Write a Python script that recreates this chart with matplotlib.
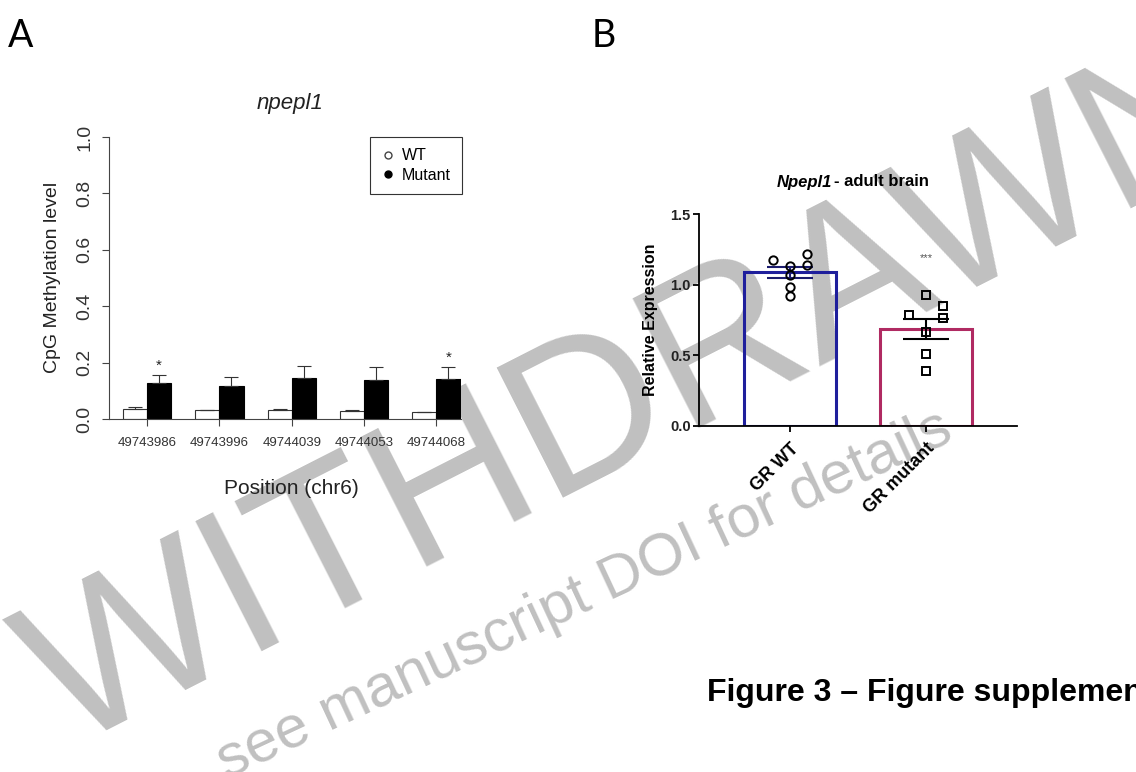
import matplotlib
matplotlib.use("Agg")
import matplotlib.pyplot as plt
from matplotlib.lines import Line2D
import numpy as np

plt.rcParams["font.family"] = ["Liberation Sans", "DejaVu Sans"]

# ---- panel A data: CpG methylation per position
positions = ["49743986", "49743996", "49744039", "49744053", "49744068"]
wt_meth = [0.035, 0.031, 0.031, 0.030, 0.024]
wt_meth_err = [0.006, 0.002, 0.003, 0.002, 0.002]
mut_meth = [0.129, 0.117, 0.144, 0.140, 0.143]
mut_meth_err = [0.028, 0.031, 0.043, 0.043, 0.041]
signif_a = ["*", "", "", "", "*"]

# ---- panel B data: relative expression
groups_b = ["GR WT", "GR mutant"]
wt_expr = [1.174, 1.130, 1.217, 1.141, 1.065, 0.987, 0.917]
wt_jitter = [-1, 0, 1, 1, 0, 0, 0]
mut_expr = [0.924, 0.848, 0.787, 0.763, 0.668, 0.510, 0.390]
mut_jitter = [0, 1, -1, 1, 0, 0, 0]
mean_b = [1.087, 0.687]
sem_b = [0.040, 0.072]

W, H = 1136, 772
fig = plt.figure(figsize=(W / 100, H / 100), dpi=100)


def px(x, y):
    return x / W, 1 - y / H


def ax_rect(x0, x1, ytop, ybot):
    return [x0 / W, 1 - ybot / H, (x1 - x0) / W, (ybot - ytop) / H]


# watermark, drawn under the plots
wm = "#c0c0c0"
fig.text(*px(635, 400), "WITHDRAWN", fontsize=152, color=wm, rotation=27,
         ha="center", va="center", zorder=-5)
fig.text(*px(585, 595), "see manuscript DOI for details", fontsize=43, color=wm,
         rotation=25, ha="center", va="center", zorder=-5)

# ---------------- panel A ----------------
axA = fig.add_axes(ax_rect(109, 461, 137, 419))
axA.patch.set_alpha(0)
gx = np.arange(len(positions)) * 3
axA.bar(gx + 0.5, wt_meth, width=1, color="white", edgecolor="#333333", linewidth=0.8)
axA.bar(gx + 1.5, mut_meth, width=1, color="black", edgecolor="black", linewidth=0.8)
axA.errorbar(gx + 0.5, wt_meth, yerr=[np.zeros(5), wt_meth_err], fmt="none",
             ecolor="#333333", elinewidth=0.8, capsize=5, capthick=0.8)
axA.errorbar(gx + 1.5, mut_meth, yerr=[np.zeros(5), mut_meth_err], fmt="none",
             ecolor="#333333", elinewidth=0.8, capsize=5, capthick=0.8)
for i, s in enumerate(signif_a):
    if s:
        axA.text(gx[i] + 1.5, mut_meth[i] + mut_meth_err[i] + 0.008, s,
                 ha="center", va="bottom", fontsize=11, color="#222222")
axA.set_xlim(-0.58, 14.02)
axA.set_ylim(0, 1)
axA.spines["top"].set_visible(False)
axA.spines["right"].set_visible(False)
axA.spines["left"].set_bounds(0, 1)
for sp in ("left", "bottom"):
    axA.spines[sp].set_color("#444444")
    axA.spines[sp].set_linewidth(0.8)
axA.set_yticks([0, 0.2, 0.4, 0.6, 0.8, 1.0])
axA.set_yticklabels(["0.0", "0.2", "0.4", "0.6", "0.8", "1.0"], rotation=90,
                    va="center", fontsize=14, color="#333333")
axA.set_xticks(gx + 1)
axA.set_xticklabels(positions, fontsize=9.5, color="#333333")
axA.tick_params(axis="both", length=5, width=0.8, color="#444444")
axA.tick_params(axis="x", pad=8)
axA.tick_params(axis="y", pad=6)

handles = [Line2D([], [], marker="o", linestyle="none", markerfacecolor="white",
                  markeredgecolor="#444444", markersize=5),
           Line2D([], [], marker="o", linestyle="none", markerfacecolor="black",
                  markeredgecolor="black", markersize=5)]
leg = axA.legend(handles, ["WT", "Mutant"], loc="upper right", bbox_to_anchor=(1.003, 1.0),
                 borderaxespad=0, fancybox=False, edgecolor="#333333", framealpha=1,
                 fontsize=11.5, handlelength=0.8, handletextpad=0.5, labelspacing=0.3,
                 borderpad=0.7)
leg.get_frame().set_linewidth(0.8)

fig.text(*px(290, 103), "npepl1", fontsize=16, style="italic", ha="center", va="center",
         color="#222222")
fig.text(*px(53, 277), "CpG Methylation level", fontsize=14, rotation=90,
         ha="center", va="center", color="#222222")
fig.text(*px(291, 489), "Position (chr6)", fontsize=15, ha="center", va="center",
         color="#222222")

# ---------------- panel B ----------------
axB = fig.add_axes(ax_rect(699, 1017, 214, 426))
axB.patch.set_alpha(0)
cols = ["#1f1f9c", "#b02a62"]
axB.bar([0, 1], mean_b, width=0.67, color="none", edgecolor=cols, linewidth=2.2, zorder=2)
axB.errorbar([0], [mean_b[0]], yerr=[sem_b[0]], fmt="none", ecolor="#1b1b6e",
             elinewidth=1.5, capsize=16.5, capthick=1.5, zorder=3)
axB.errorbar([1], [mean_b[1]], yerr=[sem_b[1]], fmt="none", ecolor="black",
             elinewidth=1.5, capsize=16.5, capthick=1.5, zorder=3)
axB.plot(0 + np.array(wt_jitter) * 0.125, wt_expr, "o", markerfacecolor="none",
         markeredgecolor="black", markersize=6, markeredgewidth=1.4, zorder=4)
axB.plot(1 + np.array(mut_jitter) * 0.125, mut_expr, "s", markerfacecolor="none",
         markeredgecolor="black", markersize=6, markeredgewidth=1.4, zorder=4)
axB.text(1, 1.19, "***", ha="center", va="center", fontsize=8, color="#555555")
axB.set_xlim(-0.669, 1.669)
axB.set_ylim(0, 1.5)
axB.spines["top"].set_visible(False)
axB.spines["right"].set_visible(False)
for sp in ("left", "bottom"):
    axB.spines[sp].set_linewidth(1.3)
axB.set_yticks([0, 0.5, 1.0, 1.5])
axB.set_yticklabels(["0.0", "0.5", "1.0", "1.5"], fontsize=10.5, fontweight="bold",
                    color="#222222")
axB.set_xticks([0, 1])
axB.set_xticklabels(groups_b, rotation=45, ha="right", rotation_mode="anchor",
                    fontsize=13, fontweight="bold")
axB.tick_params(axis="both", length=4, width=1.3)
axB.tick_params(axis="y", pad=2)
axB.tick_params(axis="x", pad=6)

fig.text(*px(832, 182), "Npepl1", fontsize=12, fontweight="bold", style="italic",
         ha="right", va="center")
fig.text(*px(834, 182), "- adult brain", fontsize=12, fontweight="bold",
         ha="left", va="center")
fig.text(*px(651, 320), "Relative Expression", fontsize=11.5, fontweight="bold",
         rotation=90, ha="center", va="center")

# ---------------- labels / caption ----------------
fig.text(*px(8, 36), "A", fontsize=27, family=["Lato", "DejaVu Sans"], ha="left", va="center")
fig.text(*px(592, 36), "B", fontsize=27, family=["Lato", "DejaVu Sans"], ha="left", va="center")
fig.text(707 / W, 1 - 701 / H, "Figure 3 \u2013 Figure supplement 1", fontsize=23,
         fontweight="bold", ha="left", va="baseline")

fig.savefig("out.png", dpi=100)
